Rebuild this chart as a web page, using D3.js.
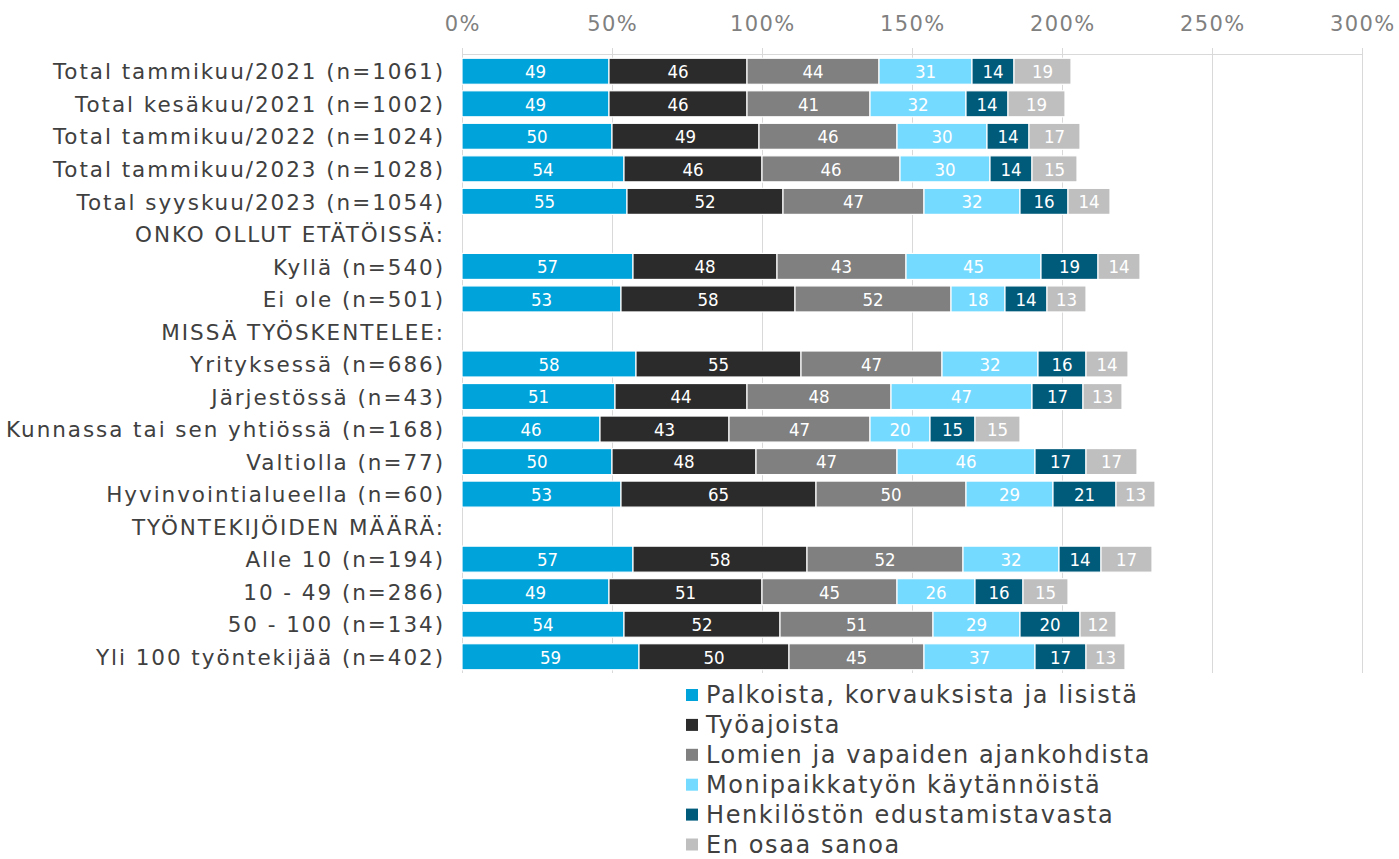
<!DOCTYPE html>
<html><head><meta charset="utf-8">
<script src="https://cdn.jsdelivr.net/npm/d3@7"></script>
<style>body{margin:0;background:#fff}svg{display:block}</style>
</head><body>
<script>
const categories = [
  "Total tammikuu/2021 (n=1061)","Total kesäkuu/2021 (n=1002)","Total tammikuu/2022 (n=1024)",
  "Total tammikuu/2023 (n=1028)","Total syyskuu/2023 (n=1054)","ONKO OLLUT ETÄTÖISSÄ:",
  "Kyllä (n=540)","Ei ole (n=501)","MISSÄ TYÖSKENTELEE:","Yrityksessä (n=686)","Järjestössä (n=43)",
  "Kunnassa tai sen yhtiössä (n=168)","Valtiolla (n=77)","Hyvinvointialueella (n=60)",
  "TYÖNTEKIJÖIDEN MÄÄRÄ:","Alle 10 (n=194)","10 - 49 (n=286)","50 - 100 (n=134)","Yli 100 työntekijää (n=402)"
];
const seriesNames = ["Palkoista, korvauksista ja lisistä","Työajoista","Lomien ja vapaiden ajankohdista",
  "Monipaikkatyön käytännöistä","Henkilöstön edustamistavasta","En osaa sanoa"];
const colors = ["#00a3da","#2b2b2b","#808080","#75daff","#005a7a","#bfbfbf"];
const palkoista =   [49,49,50,54,55,null,57,53,null,58,51,46,50,53,null,57,49,54,59];
const tyoajoista =  [46,46,49,46,52,null,48,58,null,55,44,43,48,65,null,58,51,52,50];
const lomien =      [44,41,46,46,47,null,43,52,null,47,48,47,47,50,null,52,45,51,45];
const monipaikka =  [31,32,30,30,32,null,45,18,null,32,47,20,46,29,null,32,26,29,37];
const henkilosto =  [14,14,14,14,16,null,19,14,null,16,17,15,17,21,null,14,16,20,17];
const enosaa =      [19,19,17,15,14,null,14,13,null,14,13,15,17,13,null,17,15,12,13];
const tickValues = [0,50,100,150,200,250,300];
const series = [palkoista,tyoajoista,lomien,monipaikka,henkilosto,enosaa];

const W=1399,H=859;
const FONT="Verdana, DejaVu Sans, sans-serif";
const svg=d3.select("body").append("svg").attr("width",W).attr("height",H);
const x=d3.scaleLinear().domain([0,300]).range([462,1362]);
const y=d3.scaleBand().domain(categories).range([55,673]).paddingInner(0.2).paddingOuter(0.1);

// gridlines
svg.append("g").selectAll("line").data(tickValues).join("line")
  .attr("x1",d=>x(d)+0.5).attr("x2",d=>x(d)+0.5).attr("y1",48).attr("y2",673)
  .attr("stroke","#d9d9d9").attr("stroke-width",1);
svg.append("line").attr("x1",x(0)).attr("x2",x(300)).attr("y1",54.5).attr("y2",54.5).attr("stroke","#d9d9d9");

// tick labels
svg.append("g").selectAll("text").data(tickValues).join("text")
  .attr("x",d=>x(d)+0.7).attr("y",30.5).attr("text-anchor","middle")
  .attr("font-family",FONT).attr("font-size",21).attr("letter-spacing",1.4).attr("fill","#808080")
  .text(d=>d+"%");

// category labels
svg.append("g").selectAll("text").data(categories).join("text")
  .attr("x",445).attr("y",d=>y(d)+y.bandwidth()/2).attr("dy","0.38em").attr("text-anchor","end")
  .attr("font-family",FONT).attr("font-size",21.5).attr("letter-spacing",1.95).attr("fill","#404040")
  .text(d=>d);

// stacked bars
const rows=categories.map((c,i)=>{let acc=0;return series.map((s,k)=>{const v=s[i];const r={c,k,v,x0:acc,x1:acc+(v||0)};acc+=(v||0);return r;});}).flat().filter(d=>d.v!=null);
const g=svg.append("g");
g.selectAll("rect").data(rows).join("rect")
  .attr("x",d=>x(d.x0)).attr("width",d=>x(d.x1)-x(d.x0)).attr("y",d=>y(d.c)).attr("height",y.bandwidth())
  .attr("fill",d=>colors[d.k]).attr("stroke","#fff").attr("stroke-width",1.2);
g.selectAll("text").data(rows).join("text")
  .attr("x",d=>(x(d.x0)+x(d.x1))/2).attr("y",d=>y(d.c)+y.bandwidth()/2).attr("dy","0.37em")
  .attr("text-anchor","middle").attr("font-family","DejaVu Sans Condensed, DejaVu Sans, sans-serif")
  .attr("font-size",18.5).attr("fill","#fff").text(d=>d.v);

// legend
const lg=svg.append("g");
seriesNames.forEach((n,i)=>{
  const ly=695+i*29.9;
  lg.append("rect").attr("x",686).attr("y",ly-6).attr("width",12).attr("height",12).attr("fill",colors[i]);
  lg.append("text").attr("x",706).attr("y",ly).attr("dy","0.35em")
    .attr("font-family",FONT).attr("font-size",24).attr("letter-spacing",1.6).attr("fill","#404040").text(n);
});
</script>
</body></html>
